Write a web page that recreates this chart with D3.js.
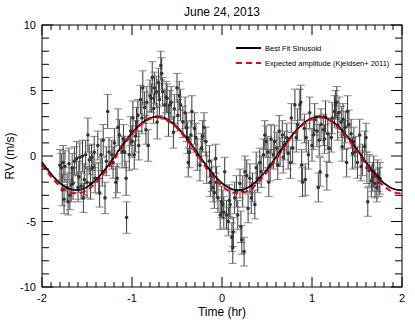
<!DOCTYPE html>
<html>
<head>
<title>RV June 24, 2013</title>
<script src="https://d3js.org/d3.v7.min.js"></script>
<style>
body { margin: 0; background: #fff; font-family: 'Liberation Sans', Arial, sans-serif; }
</style>
</head>
<body>
<svg id="chart" width="415" height="323"></svg>
<script>

  // measurements: [time (hr), RV (m/s), error (m/s)]
  var obs = [
    [-1.80,-0.7,1.2],[-1.785,-0.9,1.1],[-1.775,-2.6,1.2],[-1.765,-0.5,1.3],[-1.755,-3.3,1.1],[-1.745,-0.8,1.2],
    [-1.72,-2.4,1.1],[-1.71,-3.5,1.0],[-1.70,-0.6,1.2],[-1.69,-3.0,1.1],[-1.675,-2.2,1.3],
    [-1.665,-0.9,1.1],[-1.655,-2.1,1.2],[-1.64,-0.4,1.1],[-1.615,-0.2,1.3],[-1.60,-2.4,1.1],
    [-1.59,-1.6,1.2],[-1.58,-0.1,1.1],[-1.565,-2.3,1.0],[-1.55,0.0,1.2],[-1.54,-3.2,1.1],[-1.53,-1.8,1.2],
    [-1.515,0.1,1.1],[-1.50,-2.0,1.2],[-1.49,1.6,1.3],[-1.475,-0.3,1.1],[-1.46,-2.1,1.2],[-1.45,-0.1,1.0],
    [-1.435,-0.9,1.1],[-1.42,0.3,1.2],[-1.41,-1.7,1.1],[-1.38,0.8,1.1],[-1.37,-1.7,1.2],
    [-1.36,-2.8,1.1],[-1.345,0.1,1.2],[-1.33,-1.2,1.1],[-1.32,1.2,1.2],[-1.30,-3.2,1.2],
    [-1.285,-0.4,1.1],[-1.27,3.4,1.3],[-1.255,0.3,1.1],[-1.225,0.1,1.1],[-1.21,-0.5,1.2],
    [-1.195,1.0,1.1],[-1.18,-2.0,1.2],[-1.165,-1.7,1.1],[-1.155,2.2,1.4],[-1.14,1.6,1.2],
    [-1.11,0.3,1.2],[-1.095,1.3,1.1],[-1.08,0.3,1.2],[-1.065,-1.7,1.3],[-1.06,-4.7,1.2],
    [-1.03,0.1,1.2],[-1.015,1.9,1.1],[-1.00,1.1,1.2],[-0.99,2.9,1.3],[-0.975,0.1,1.1],[-0.96,1.5,1.2],
    [-0.95,2.6,1.1],[-0.935,3.1,1.2],[-0.925,0.8,1.1],
    [-0.905,4.3,1.1],[-0.89,2.9,1.2],[-0.88,5.2,1.3],[-0.86,3.7,1.2],[-0.845,2.0,1.1],
    [-0.835,4.1,1.2],[-0.82,0.8,1.2],[-0.80,4.6,1.2],[-0.785,4.4,1.1],[-0.775,6.0,1.2],
    [-0.76,3.6,1.1],[-0.75,5.2,1.2],[-0.73,4.9,1.2],[-0.72,2.6,1.3],[-0.705,5.6,1.1],
    [-0.695,4.3,1.2],[-0.68,6.9,1.1],[-0.67,6.3,1.2],[-0.66,4.9,1.1],[-0.635,3.9,1.1],
    [-0.62,4.5,1.2],[-0.61,4.4,1.1],[-0.595,2.7,1.2],[-0.58,3.9,1.1],[-0.565,4.1,1.2],
    [-0.54,1.8,1.2],[-0.53,3.6,1.1],[-0.50,5.2,1.1],[-0.49,3.1,1.2],[-0.475,4.6,1.1],
    [-0.46,3.9,1.2],
    [-0.435,2.6,1.2],[-0.41,3.3,1.2],[-0.395,2.2,1.1],[-0.385,1.4,1.2],[-0.375,-0.5,1.1],
    [-0.36,0.3,1.2],[-0.345,1.6,1.1],[-0.335,3.4,1.2],[-0.305,2.1,1.2],[-0.29,1.4,1.1],
    [-0.275,0.1,1.2],[-0.245,-0.7,1.2],[-0.23,0.6,1.1],[-0.215,1.5,1.2],[-0.20,2.2,1.1],
    [-0.18,1.1,1.1],[-0.17,-0.9,1.2],[-0.14,-0.4,1.2],[-0.13,-2.0,1.1],
    [-0.115,-1.5,1.2],[-0.10,-2.4,1.1],[-0.085,-2.8,1.2],[-0.07,-0.2,1.1],[-0.06,-2.0,1.2],[-0.045,-3.2,1.1],
    [-0.02,-4.5,1.1],[-0.005,-3.5,1.2],[0.01,-3.7,1.1],[0.02,-4.3,1.2],
    [0.03,-1.2,1.1],[0.05,-4.5,1.1],[0.07,-5.0,1.1],[0.08,-3.4,1.2],
    [0.09,-3.7,1.1],[0.11,-6.2,1.1],[0.12,-7.0,1.2],[0.125,-5.8,1.1],[0.14,-3.2,1.2],
    [0.16,-2.7,1.2],[0.175,-4.5,1.1],[0.20,-2.1,1.1],[0.21,-5.4,1.2],
    [0.22,-6.4,1.1],[0.23,-2.7,1.2],[0.245,-7.3,1.1],[0.255,-1.2,1.2],[0.275,-1.5,1.2],
    [0.29,-4.0,1.1],[0.31,-1.7,1.1],[0.325,-3.2,1.2],[0.34,-2.4,1.1],
    [0.365,-3.7,1.1],[0.38,-0.9,1.2],[0.395,-1.7,1.1],[0.42,-0.5,1.1],[0.435,-1.2,1.2],
    [0.46,0.1,1.2],[0.475,1.6,1.1],[0.49,1.1,1.2],
    [0.51,0.3,1.2],[0.52,-2.0,1.1],[0.535,-0.7,1.2],[0.545,1.3,1.1],[0.57,0.1,1.1],
    [0.585,1.1,1.2],[0.61,0.6,1.2],[0.62,-0.7,1.1],[0.635,1.9,1.2],[0.645,0.3,1.1],
    [0.67,1.6,1.1],[0.68,-0.1,1.2],[0.695,0.8,1.1],[0.72,1.4,1.1],
    [0.735,0.2,1.2],[0.76,-0.5,1.2],[0.77,2.9,1.1],[0.785,0.6,1.2],
    [0.81,3.9,1.2],[0.825,1.4,1.1],[0.84,2.4,1.2],[0.865,3.9,1.2],[0.875,4.1,1.3],
    [0.885,-0.7,1.2],[0.895,-2.0,1.1],[0.915,2.1,1.1],[0.925,-1.8,1.2],[0.935,1.4,1.1],
    [0.96,0.1,1.1],[0.975,3.3,1.2],[1.00,0.8,1.2],
    [1.015,1.6,1.1],[1.03,2.8,1.2],[1.055,1.9,1.2],[1.07,-2.4,1.1],[1.08,1.2,1.2],
    [1.09,-1.2,1.1],[1.10,2.4,1.2],[1.125,2.0,1.2],[1.14,1.3,1.1],[1.15,3.0,1.2],
    [1.165,-1.5,1.1],[1.175,1.7,1.2],[1.19,0.6,1.1],[1.215,1.4,1.1],[1.225,2.9,1.2],
    [1.25,3.4,1.2],[1.26,3.9,1.1],[1.275,4.1,1.2],[1.285,2.3,1.1],[1.30,3.3,1.2],
    [1.325,2.6,1.2],[1.335,0.7,1.1],[1.345,2.8,1.2],[1.36,1.6,1.1],[1.37,2.2,1.2],
    [1.385,-0.5,1.1],[1.395,3.4,1.2],[1.41,2.4,1.1],[1.435,1.7,1.1],[1.45,0.2,1.2],
    [1.465,1.1,1.1],[1.48,0.3,1.2],[1.505,-0.5,1.2],[1.53,1.6,1.2],
    [1.545,-0.8,1.1],[1.56,-0.3,1.2],[1.585,0.7,1.2],[1.60,1.4,1.1],[1.61,-0.9,1.2],
    [1.62,-3.5,1.1],[1.635,-1.1,1.2],[1.66,-1.9,1.2],[1.675,-1.6,1.1],[1.685,-1.2,1.2],
    [1.70,-2.1,1.1],[1.72,-2.4,1.1],[1.73,-1.5,1.2],[1.745,-2.0,1.1],[1.755,-1.7,1.2]
  ];

  // sinusoid parameters: [offset, amplitude, period (hr), time of minimum (hr)]
  var bestFit = [0.2, 2.8, 1.8, 0.18];
  var expected = [0.05, 2.9, 1.8, 0.18];

  var xTicks = [-2, -1, 0, 1, 2];
  var yTicks = [-10, -5, 0, 5, 10];
  var legendLabels = ["Best Fit Sinusoid", "Expected amplitude (Kjeldsen+ 2011)"];

  var XScale = d3.scaleLinear().domain([-2, 2]).range([42, 402]);
  var YScale = d3.scaleLinear().domain([-10, 10]).range([287, 25]);

  var svg = d3.select("#chart");
  var g = svg.append("g");

  // error bars
  var bars = g.append("g").attr("stroke-width", 0.9).attr("fill", "none");
  obs.forEach(function (d) {
    var x = XScale(d[0]);
    var y0 = YScale(d[1] - d[2]), y1 = YScale(d[1] + d[2]);
    bars.append("line").attr("x1", x).attr("x2", x).attr("y1", y0).attr("y2", y1).attr("stroke", "#222");
    bars.append("line").attr("x1", x - 4).attr("x2", x + 4).attr("y1", y0).attr("y2", y0).attr("stroke", "#777");
    bars.append("line").attr("x1", x - 4).attr("x2", x + 4).attr("y1", y1).attr("y2", y1).attr("stroke", "#777");
  });
  g.append("g").selectAll("circle").data(obs).enter().append("circle")
    .attr("cx", function (d) { return XScale(d[0]); })
    .attr("cy", function (d) { return YScale(d[1]); })
    .attr("r", 1.8)
    .attr("fill", "#333");

  function sinePath(p) {
    var pts = d3.range(-2, 2.0001, 0.01);
    return d3.line()
      .x(function (t) { return XScale(t); })
      .y(function (t) { return YScale(p[0] - p[1] * Math.cos(2 * Math.PI * (t - p[3]) / p[2])); })(pts);
  }

  g.append("path").attr("d", sinePath(bestFit))
    .attr("fill", "none").attr("stroke", "black").attr("stroke-width", 1.7);
  g.append("path").attr("d", sinePath(expected))
    .attr("fill", "none").attr("stroke", "#e8000b").attr("stroke-width", 2)
    .attr("stroke-dasharray", "6,4");

  // axes: major + minor ticks on all four sides
  var xMinor = d3.range(-2, 2.0001, 0.1);
  var yMinor = d3.range(-10, 10.0001, 1);
  var ax = g.append("g").attr("stroke", "black").attr("stroke-width", 1);
  xMinor.forEach(function (v) {
    var major = Math.abs(v - Math.round(v)) < 1e-6;
    var len = major ? 10 : 5;
    var x = XScale(v);
    ax.append("line").attr("x1", x).attr("x2", x).attr("y1", 287).attr("y2", 287 - len);
    ax.append("line").attr("x1", x).attr("x2", x).attr("y1", 25).attr("y2", 25 + len);
  });
  yMinor.forEach(function (v) {
    var major = v % 5 === 0;
    var len = major ? 11 : 7;
    var y = YScale(v);
    ax.append("line").attr("x1", 42).attr("x2", 42 + len).attr("y1", y).attr("y2", y);
    ax.append("line").attr("x1", 402).attr("x2", 402 - len).attr("y1", y).attr("y2", y);
  });
  g.append("rect").attr("x", 42).attr("y", 25).attr("width", 360).attr("height", 262)
    .attr("fill", "none").attr("stroke", "black").attr("stroke-width", 1);

  g.selectAll(".xl").data(xTicks).enter().append("text")
    .attr("x", function (d) { return XScale(d); })
    .attr("y", 302)
    .attr("text-anchor", "middle")
    .attr("font-size", 11)
    .text(function (d) { return d; });
  g.selectAll(".yl").data(yTicks).enter().append("text")
    .attr("x", 36)
    .attr("y", function (d) { return YScale(d) + 4; })
    .attr("text-anchor", "end")
    .attr("font-size", 11)
    .text(function (d) { return d; });

  g.append("text").attr("x", 222).attr("y", 316).attr("text-anchor", "middle")
    .attr("font-size", 12).text("Time (hr)");
  g.append("text").attr("transform", "translate(14,156) rotate(-90)").attr("text-anchor", "middle")
    .attr("font-size", 12).text("RV (m/s)");
  g.append("text").attr("x", 222).attr("y", 16).attr("text-anchor", "middle")
    .attr("font-size", 12).text("June 24, 2013");

  // legend
  var leg = g.append("g");
  legendLabels.forEach(function (lab, i) {
    var y = 48 + i * 15;
    leg.append("line").attr("x1", 236).attr("x2", 261).attr("y1", y).attr("y2", y)
      .attr("stroke", i === 0 ? "black" : "#e8000b").attr("stroke-width", 2)
      .attr("stroke-dasharray", i === 0 ? null : "6,4");
    leg.append("text").attr("x", 265).attr("y", y + 3).attr("font-size", 7.5).text(lab);
  });

</script>
</body>
</html>
